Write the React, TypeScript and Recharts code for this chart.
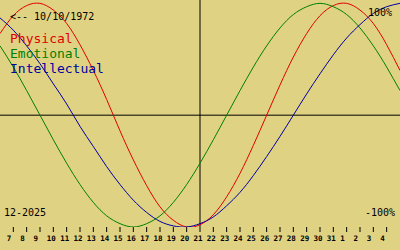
import React from 'react';
import { LineChart, Line, XAxis, YAxis, ReferenceLine } from 'recharts';

// days shown: 6 Dec 2025 .. 5 Jan 2026 (days past 31 roll into January)
const days = [6, 7, 8, 9, 10, 11, 12, 13, 14, 15, 16, 17, 18, 19, 20, 21, 22, 23, 24, 25, 26, 27, 28, 29, 30, 31, 32, 33, 34, 35, 36];
const physical = [73, 89, 98, 100, 94, 82, 63, 40, 14, -14, -40, -63, -82, -94, -100, -98, -89, -73, -52, -27, 0, 27, 52, 73, 89, 98, 100, 94, 82, 63, 40];
const emotional = [62, 43, 22, 0, -22, -43, -62, -78, -90, -97, -100, -97, -90, -78, -62, -43, -22, 0, 22, 43, 62, 78, 90, 97, 100, 97, 90, 78, 62, 43, 22];
const intellectual = [87, 76, 62, 46, 28, 10, -10, -28, -46, -62, -76, -87, -95, -99, -100, -97, -91, -81, -69, -54, -37, -19, 0, 19, 37, 54, 69, 81, 91, 97, 100];
const tickDays = [7, 8, 9, 10, 11, 12, 13, 14, 15, 16, 17, 18, 19, 20, 21, 22, 23, 24, 25, 26, 27, 28, 29, 30, 31, 32, 33, 34, 35];
const today = 21;

const data = days.map((d, i) => ({
  day: d,
  physical: physical[i],
  emotional: emotional[i],
  intellectual: intellectual[i],
}));

const mono = '"DejaVu Sans Mono", monospace';

const DayTick = (props: any) => {
  const { x, y, payload } = props;
  const d = payload.value > 31 ? payload.value - 31 : payload.value;
  return (
    <text x={x - 6.5} y={y + 5} textAnchor="start" fontFamily={mono} fontSize={7.5} fontWeight="bold" fill="#000">
      {d}
    </text>
  );
};

const label = (top: number, left: number, size: number, color: string): React.CSSProperties => ({
  position: 'absolute',
  top,
  left,
  fontFamily: mono,
  fontSize: size,
  lineHeight: 1,
  color,
  whiteSpace: 'pre',
});

export default function App() {
  return (
    <div style={{ position: 'fixed', top: 0, left: 0, width: 400, height: 250, background: '#e0d283', overflow: 'hidden' }}>
      <LineChart width={400} height={250} data={data} margin={{ top: 0, right: 0, bottom: 0, left: 0 }}>
        <XAxis
          dataKey="day"
          type="number"
          domain={[6, 36]}
          ticks={tickDays}
          interval={0}
          axisLine={false}
          tickLine={{ stroke: '#000' }}
          tickSize={5}
          tickMargin={4}
          height={23}
          tick={<DayTick />}
        />
        <YAxis hide domain={[-100, 103]} allowDataOverflow />
        <ReferenceLine y={0} stroke="#000" strokeWidth={1} />
        <ReferenceLine x={today} stroke="#000" strokeWidth={1} />
        <Line type="natural" dataKey="physical" stroke="#e00000" strokeWidth={1} dot={false} activeDot={false} isAnimationActive={false} />
        <Line type="natural" dataKey="emotional" stroke="#008000" strokeWidth={1} dot={false} activeDot={false} isAnimationActive={false} />
        <Line type="natural" dataKey="intellectual" stroke="#0000a0" strokeWidth={1} dot={false} activeDot={false} isAnimationActive={false} />
      </LineChart>
      <div style={label(12, 10, 10, '#000')}>{'<-- 10/10/1972'}</div>
      <div style={label(32, 10, 13, '#e00000')}>Physical</div>
      <div style={label(47, 10, 13, '#008000')}>Emotional</div>
      <div style={label(62, 10, 13, '#0000a0')}>Intellectual</div>
      <div style={label(8, 368, 10, '#000')}>100%</div>
      <div style={label(208, 365, 10, '#000')}>-100%</div>
      <div style={label(208, 4, 10, '#000')}>12-2025</div>
    </div>
  );
}
